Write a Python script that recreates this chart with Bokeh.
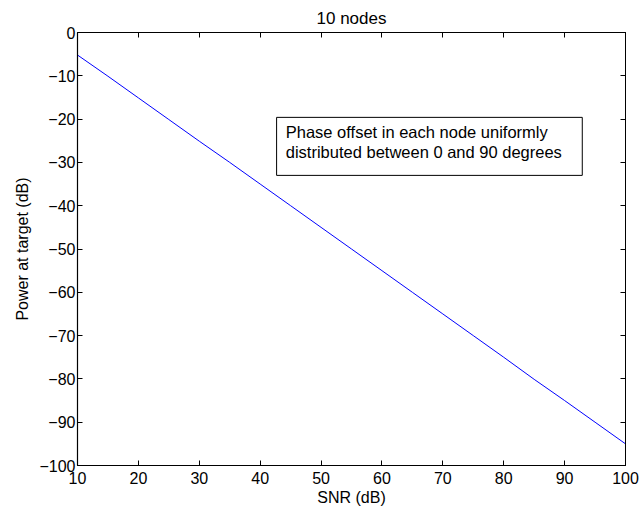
from bokeh.plotting import figure
from bokeh.models import (LinearAxis, Range1d, FixedTicker, CustomJSTickFormatter,
                          BoxAnnotation, Label)
from bokeh.embed import file_html
from bokeh.resources import INLINE

# data
snr_db = [10, 15, 20, 25, 30, 35, 40, 45, 50, 55, 60, 65, 70, 75, 80, 85, 90, 95, 100]
power_db = [-5.2, -10.1, -15.1, -20.1, -25.1, -30.0, -35.0, -40.0, -45.0, -50.0,
            -55.0, -60.0, -65.0, -70.0, -75.0, -80.1, -85.0, -90.0, -95.0]
x_ticks = [10, 20, 30, 40, 50, 60, 70, 80, 90, 100]
y_ticks = [0, -10, -20, -30, -40, -50, -60, -70, -80, -90, -100]

FONT = "Liberation Sans"

p = figure(width=641, height=512, output_backend="svg", toolbar_location=None,
           x_range=Range1d(10, 100), y_range=Range1d(-100, 0),
           title="10 nodes", x_axis_label="SNR (dB)", y_axis_label="Power at target (dB)",
           min_border_left=77, min_border_right=16, min_border_top=32, min_border_bottom=47)

p.title.text_font = FONT
p.title.text_font_size = "17px"
p.title.text_font_style = "normal"
p.title.text_color = "black"
p.title.align = "center"
p.title.offset = 0
p.title.standoff = 10

p.grid.visible = False
p.outline_line_color = "black"
p.outline_line_width = 1
p.background_fill_color = "white"
p.border_fill_color = "white"

fmt = CustomJSTickFormatter(code="return tick < 0 ? '\\u2212' + Math.abs(tick) : tick.toString();")
blank = CustomJSTickFormatter(code="return '';")

for ax in p.xaxis:
    ax.ticker = FixedTicker(ticks=x_ticks)
    ax.major_label_standoff = 6
for ax in p.yaxis:
    ax.ticker = FixedTicker(ticks=y_ticks)
    ax.major_label_standoff = 2

for ax in list(p.xaxis) + list(p.yaxis):
    ax.formatter = fmt
    ax.major_tick_in = 5
    ax.major_tick_out = 0
    ax.minor_tick_in = 0
    ax.minor_tick_out = 0
    ax.axis_line_color = "black"
    ax.axis_line_width = 1.2
    ax.major_tick_line_color = "black"
    ax.major_label_text_font = FONT
    ax.major_label_text_font_size = "16px"
    ax.major_label_text_color = "black"
    ax.axis_label_text_font = FONT
    ax.axis_label_text_font_size = "16px"
    ax.axis_label_text_font_style = "normal"
    ax.axis_label_text_color = "black"
    ax.axis_label_standoff = 2
for ax in p.yaxis:
    ax.axis_label_standoff = 5

# mirrored ticks on top and right
top = LinearAxis(ticker=FixedTicker(ticks=x_ticks), formatter=blank, major_tick_in=5,
                 major_tick_out=0, minor_tick_in=0, minor_tick_out=0,
                 major_label_standoff=0, major_label_text_font_size="2px",
                 axis_line_color="black")
right = LinearAxis(ticker=FixedTicker(ticks=y_ticks), formatter=blank, major_tick_in=5,
                   major_tick_out=0, minor_tick_in=0, minor_tick_out=0,
                   major_label_standoff=0, major_label_text_font_size="2px",
                   axis_line_color="black")
p.add_layout(top, "above")
p.add_layout(right, "right")

p.line(snr_db, power_db, line_color="#0000ff", line_width=1)

box = BoxAnnotation(left=42.7, right=92.9, top=-19.6, bottom=-33.0,
                    fill_color="white", fill_alpha=1.0, line_color="black",
                    line_alpha=1.0, line_width=1)
p.add_layout(box)

lab1 = Label(x=44.2, y=-22.9, text="Phase offset in each node uniformly",
             text_font=FONT, text_font_size="16.5px", text_baseline="middle", text_color="black")
lab2 = Label(x=44.2, y=-27.5, text="distributed between 0 and 90 degrees",
             text_font=FONT, text_font_size="16.5px", text_baseline="middle", text_color="black")
p.add_layout(lab1)
p.add_layout(lab2)

open("out.html", "w").write(file_html(p, INLINE))
